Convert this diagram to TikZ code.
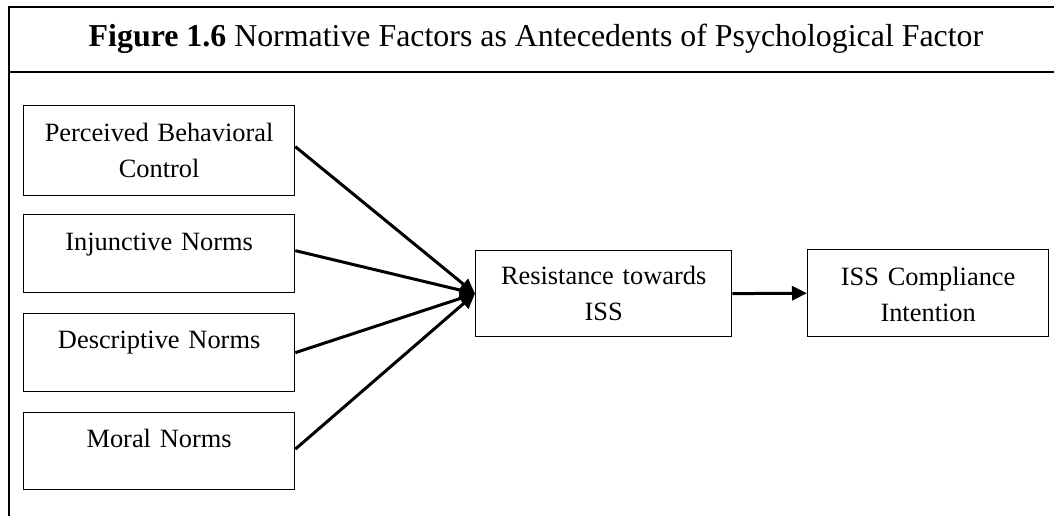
\documentclass[tikz,border=0pt]{standalone}
\usepackage{fontspec}
\setmainfont{Liberation Serif}
\usetikzlibrary{arrows.meta}
\begin{document}
\begin{tikzpicture}[x=1bp,y=-1bp,
  box/.style={draw=black, line width=1.3bp, inner sep=0pt, anchor=north west,
    align=center, font=\fontsize{26.5}{36}\selectfont},
  link/.style={line width=3bp, -{Triangle[length=15bp,width=14bp]}},
  frameline/.style={line width=1.3bp}]
\useasboundingbox (0,0) rectangle (1054,516);
% frame of the figure with its title band
\draw[frameline] (1054,7) -- (9,7) -- (9,516);
\draw[frameline] (9,72) -- (1054,72);
\node[font=\fontsize{32}{38}\selectfont, anchor=base, inner sep=0pt] (title) at (536,47)
  {\textbf{Figure 1.6} Normative Factors as Antecedents of Psychological Factor};
% antecedents
\node[box, text width=271bp, text height=36bp, text depth=54bp] (pbc) at (23,105) {Perceived Behavioral\\Control};
\node[box, text width=271bp, text height=36bp, text depth=42bp] (inj) at (23,214) {Injunctive Norms};
\node[box, text width=271bp, text height=35bp, text depth=43bp] (des) at (23,313) {Descriptive Norms};
\node[box, text width=271bp, text height=35bp, text depth=42bp] (mor) at (23,412) {Moral Norms};
% mediator and outcome
\node[box, text width=256bp, text height=34bp, text depth=52bp] (res) at (475,250) {Resistance towards\\ISS};
\node[box, text width=241bp, text height=36bp, text depth=51bp] (int) at (807,249) {ISS Compliance\\Intention};
% paths
\draw[link] ([yshift=4bp]pbc.east) -- (res.west);
\draw[link] ([yshift=3bp]inj.east) -- (res.west);
\draw[link] (des.east) -- (res.west);
\draw[link] ([yshift=2bp]mor.east) -- (res.west);
\draw[link] (res.east) -- (int.west);
\end{tikzpicture}
\end{document}
